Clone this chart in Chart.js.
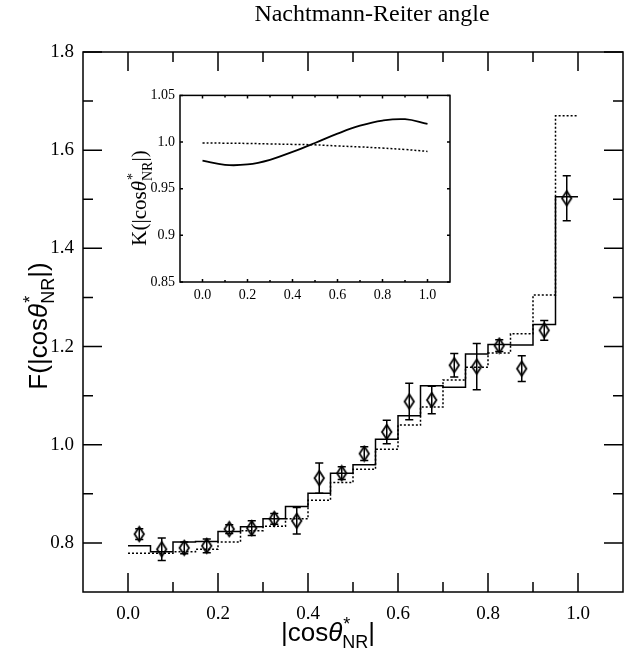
<!DOCTYPE html>
<html>
<head>
<meta charset="utf-8">
<script src="https://cdn.jsdelivr.net/npm/chart.js@4.4.1/dist/chart.umd.min.js"></script>
<style>
  html, body { margin: 0; padding: 0; background: #fff; }
  #wrap { position: relative; width: 641px; height: 658px; }
  #main { position: absolute; left: 0; top: 0; }
  #inset { position: absolute; left: 100px; top: 82px; }
</style>
</head>
<body>
<div id="wrap">
  <canvas id="main" width="641" height="658"></canvas>
  <canvas id="inset" width="360" height="235"></canvas>
</div>
<script>
// bins of |cos theta*_NR|
const binEdges = [0.00, 0.05, 0.10, 0.15, 0.20, 0.25, 0.30, 0.35, 0.40, 0.45, 0.50,
                  0.55, 0.60, 0.65, 0.70, 0.75, 0.80, 0.85, 0.90, 0.95, 1.00];
const binCenters = [0.025, 0.075, 0.125, 0.175, 0.225, 0.275, 0.325, 0.375, 0.425, 0.475,
                    0.525, 0.575, 0.625, 0.675, 0.725, 0.775, 0.825, 0.875, 0.925, 0.975];

// measured points with errors
const measured = [0.818, 0.787, 0.790, 0.794, 0.828, 0.830, 0.849, 0.845, 0.932, 0.942,
                  0.982, 1.026, 1.088, 1.091, 1.162, 1.159, 1.202, 1.155, 1.233, 1.502];
const measuredErr = [0.011, 0.023, 0.012, 0.014, 0.009, 0.015, 0.011, 0.027, 0.031, 0.013,
                     0.014, 0.024, 0.037, 0.028, 0.024, 0.047, 0.012, 0.026, 0.020, 0.046];

// histograms (solid and dotted)
const solidHist = [0.794, 0.782, 0.802, 0.803, 0.823, 0.833, 0.849, 0.874, 0.901, 0.942,
                   0.959, 1.011, 1.059, 1.120, 1.117, 1.185, 1.204, 1.203, 1.245, 1.505];
const dottedHist = [0.779, 0.779, 0.782, 0.787, 0.802, 0.825, 0.834, 0.849, 0.887, 0.923,
                    0.950, 0.991, 1.040, 1.077, 1.132, 1.158, 1.187, 1.226, 1.305, 1.670];

// main axis ticks
const xMajor = [0.0, 0.2, 0.4, 0.6, 0.8, 1.0];
const xMinor = [0.1, 0.3, 0.5, 0.7, 0.9];
const yMajor = [0.8, 1.0, 1.2, 1.4, 1.6, 1.8];
const yMinor = [0.9, 1.1, 1.3, 1.5, 1.7];

// inset: K(|cos theta*_NR|)
const kX = [0.0, 0.1, 0.2, 0.3, 0.4, 0.5, 0.6, 0.7, 0.8, 0.9, 1.0];
const kSolid = [0.980, 0.9755, 0.976, 0.981, 0.9895, 0.999, 1.009, 1.0175, 1.023, 1.0245, 1.0195];
const kDotted = [0.999, 0.9988, 0.9985, 0.998, 0.9975, 0.997, 0.9958, 0.9948, 0.9935, 0.992, 0.990];
const insetXTicks = [0.0, 0.2, 0.4, 0.6, 0.8, 1.0];
const insetXMinor = [0.1, 0.3, 0.5, 0.7, 0.9];
const insetYTicks = [0.85, 0.9, 0.95, 1.0, 1.05];

const serif = "'Liberation Serif', 'DejaVu Serif', serif";
const sans = "'Liberation Sans', Arial, sans-serif";
const capHalf = 0.009;

function stepData(vals) {
  // stepped "before": each segment keeps the value of its left edge
  return binEdges.map((x, i) => ({ x: x, y: vals[Math.min(i, vals.length - 1)] }));
}

function errorBarData() {
  let out = [];
  binCenters.forEach((c, i) => {
    let lo = measured[i] - measuredErr[i];
    let hi = measured[i] + measuredErr[i];
    out.push({ x: c, y: lo }, { x: c, y: hi }, { x: c, y: null });
    out.push({ x: c - capHalf, y: hi }, { x: c + capHalf, y: hi }, { x: c, y: null });
    out.push({ x: c - capHalf, y: lo }, { x: c + capHalf, y: lo }, { x: c, y: null });
  });
  return out;
}

function makeDiamond(w, h, lw) {
  let c = document.createElement("canvas");
  c.width = w + 2 * lw;
  c.height = h + 2 * lw;
  let g = c.getContext("2d");
  g.lineWidth = lw;
  g.strokeStyle = "#000";
  g.beginPath();
  g.moveTo(c.width / 2, lw);
  g.lineTo(c.width - lw, c.height / 2);
  g.lineTo(c.width / 2, c.height - lw);
  g.lineTo(lw, c.height / 2);
  g.closePath();
  g.stroke();
  return c;
}

// draws text like "|cosθ*NR|" with stacked super/subscript
function richText(ctx, prefix, size, x, y, rotate, family, suffix) {
  let main = size + "px " + family;
  let ital = "italic " + size + "px " + family;
  let small = Math.round(size * 0.68) + "px " + family;
  ctx.save();
  ctx.translate(x, y);
  if (rotate) ctx.rotate(-Math.PI / 2);
  ctx.fillStyle = "#000";
  ctx.textBaseline = "alphabetic";
  ctx.textAlign = "left";
  ctx.font = main; let w1 = ctx.measureText(prefix).width;
  ctx.font = ital; let w2 = ctx.measureText("θ").width;
  ctx.font = small; let w3 = Math.max(ctx.measureText("*").width, ctx.measureText("NR").width);
  ctx.font = main; let w4 = ctx.measureText(suffix).width;
  let total = w1 + w2 + w3 + w4;
  let cx = -total / 2;
  ctx.font = main; ctx.fillText(prefix, cx, 0); cx += w1;
  ctx.font = ital; ctx.fillText("θ", cx, 0); cx += w2;
  ctx.font = small;
  ctx.fillText("*", cx + 1, -size * 0.42);
  ctx.fillText("NR", cx, size * 0.28); cx += w3;
  ctx.font = main; ctx.fillText(suffix, cx, 0);
  ctx.restore();
}

// frame with inward ticks on all four sides
const framePlugin = {
  id: "frame",
  afterDraw(chart, args, opts) {
    const { ctx, chartArea: a, scales } = chart;
    ctx.save();
    ctx.strokeStyle = "#000";
    ctx.lineWidth = opts.lineWidth;
    ctx.strokeRect(a.left, a.top, a.right - a.left, a.bottom - a.top);
    ctx.beginPath();
    const xt = (vals, len) => vals.forEach((v) => {
      let px = scales.x.getPixelForValue(v);
      ctx.moveTo(px, a.bottom); ctx.lineTo(px, a.bottom - len);
      ctx.moveTo(px, a.top); ctx.lineTo(px, a.top + len);
    });
    const yt = (vals, len) => vals.forEach((v) => {
      let py = scales.y.getPixelForValue(v);
      ctx.moveTo(a.left, py); ctx.lineTo(a.left + len, py);
      ctx.moveTo(a.right, py); ctx.lineTo(a.right - len, py);
    });
    xt(opts.xMajor, opts.major);
    xt(opts.xMinor, opts.minor);
    yt(opts.yMajor, opts.major);
    yt(opts.yMinor, opts.minor);
    ctx.stroke();
    ctx.restore();
  },
};

const mainLabels = {
  id: "mainLabels",
  afterDraw(chart) {
    const ctx = chart.ctx;
    ctx.save();
    ctx.fillStyle = "#000";
    ctx.font = "24px " + serif;
    ctx.textAlign = "center";
    ctx.textBaseline = "alphabetic";
    ctx.fillText("Nachtmann-Reiter angle", 372, 21);
    ctx.restore();
    richText(ctx, "|cos", 26, 328, 641, false, sans, "|");
    richText(ctx, "F(|cos", 26, 47, 326, true, sans, "|)");
  },
};

const insetLabels = {
  id: "insetLabels",
  afterDraw(chart) {
    richText(chart.ctx, "K(|cos", 21, 46, 116, true, serif, "|)");
  },
};

const tickFont = { family: serif, size: 19 };

new Chart(document.getElementById("main"), {
  type: "line",
  data: {
    datasets: [
      {
        label: "data",
        data: binCenters.map((x, i) => ({ x: x, y: measured[i] })),
        showLine: false,
        pointStyle: makeDiamond(10, 15, 1.8),
        pointRadius: 7,
      },
      {
        label: "errors",
        data: errorBarData(),
        borderColor: "#000",
        borderWidth: 1.5,
        pointRadius: 0,
        spanGaps: false,
      },
      {
        label: "solid",
        data: stepData(solidHist),
        stepped: "before",
        borderColor: "#000",
        borderWidth: 1.5,
        pointRadius: 0,
      },
      {
        label: "dotted",
        data: stepData(dottedHist),
        stepped: "before",
        borderColor: "#000",
        borderWidth: 1.5,
        borderDash: [2, 2],
        pointRadius: 0,
      },
    ],
  },
  options: {
    responsive: false,
    animation: false,
    layout: { padding: { top: 52, right: 18, left: 0, bottom: 0 } },
    plugins: {
      legend: { display: false },
      tooltip: { enabled: false },
      frame: { lineWidth: 1.5, major: 19, minor: 10, xMajor, xMinor, yMajor, yMinor },
    },
    scales: {
      x: {
        type: "linear",
        min: -0.1,
        max: 1.1,
        grid: { display: false, drawTicks: false },
        border: { display: false },
        afterBuildTicks: (axis) => { axis.ticks = xMajor.map((v) => ({ value: v })); },
        afterFit: (s) => { s.height = 66; },
        ticks: { font: tickFont, color: "#000", padding: 11, maxRotation: 0, autoSkip: false,
                 callback: (v) => v.toFixed(1) },
      },
      y: {
        type: "linear",
        min: 0.7,
        max: 1.8,
        grid: { display: false, drawTicks: false },
        border: { display: false },
        afterBuildTicks: (axis) => { axis.ticks = yMajor.map((v) => ({ value: v })); },
        afterFit: (s) => { s.width = 83; },
        ticks: { font: tickFont, color: "#000", padding: 9, autoSkip: false,
                 callback: (v) => v.toFixed(1) },
      },
    },
  },
  plugins: [framePlugin, mainLabels],
});

const insetFont = { family: serif, size: 14 };

new Chart(document.getElementById("inset"), {
  type: "line",
  data: {
    datasets: [
      {
        label: "K solid",
        data: kX.map((x, i) => ({ x: x, y: kSolid[i] })),
        borderColor: "#000",
        borderWidth: 1.8,
        pointRadius: 0,
        tension: 0.4,
      },
      {
        label: "K dotted",
        data: kX.map((x, i) => ({ x: x, y: kDotted[i] })),
        borderColor: "#000",
        borderWidth: 1.5,
        borderDash: [2, 2],
        pointRadius: 0,
        tension: 0.4,
      },
    ],
  },
  options: {
    responsive: false,
    animation: false,
    layout: { padding: { top: 10, right: 10, left: 0, bottom: 0 } },
    plugins: {
      legend: { display: false },
      tooltip: { enabled: false },
      frame: { lineWidth: 1.5, major: 3, minor: 2, xMajor: insetXTicks, xMinor: insetXMinor,
               yMajor: insetYTicks, yMinor: [] },
    },
    scales: {
      x: {
        type: "linear",
        min: -0.1,
        max: 1.1,
        grid: { display: false, drawTicks: false },
        border: { display: false },
        afterBuildTicks: (axis) => { axis.ticks = insetXTicks.map((v) => ({ value: v })); },
        afterFit: (s) => { s.height = 35; },
        ticks: { font: insetFont, color: "#000", padding: 5, maxRotation: 0, autoSkip: false,
                 callback: (v) => v.toFixed(1) },
      },
      y: {
        type: "linear",
        min: 0.85,
        max: 1.05,
        grid: { display: false, drawTicks: false },
        border: { display: false },
        afterBuildTicks: (axis) => { axis.ticks = insetYTicks.map((v) => ({ value: v })); },
        afterFit: (s) => { s.width = 80; },
        ticks: { font: insetFont, color: "#000", padding: 5, autoSkip: false,
                 callback: (v) => (Math.abs(v - 1) < 1e-9 ? "1.0" : String(+v.toFixed(2))) },
      },
    },
  },
  plugins: [framePlugin, insetLabels],
});
</script>
</body>
</html>
